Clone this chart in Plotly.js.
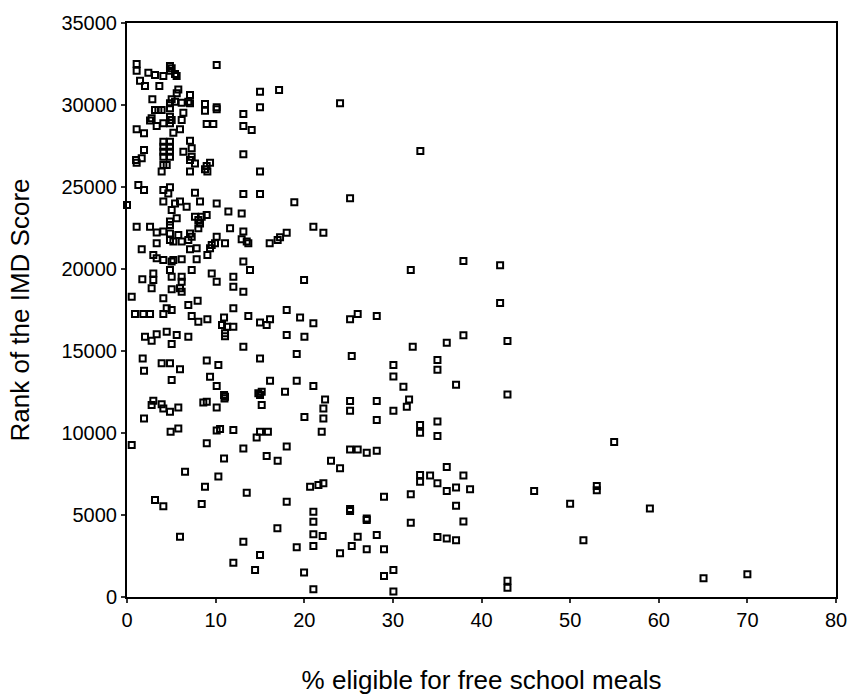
<!DOCTYPE html>
<html>
<head>
<meta charset="utf-8">
<script src="https://cdn.plot.ly/plotly-3.0.1.min.js"></script>
<style>html,body{margin:0;padding:0;background:#fff;}#chart{width:848px;height:695px;}</style>
</head>
<body>
<div id="chart"></div>
<script>
// % eligible for free school meals
const fsmPct = [
1.09,1.09,2.41,3.16,4.10,4.85,5.04,4.85,5.42,5.60,1.47,2.03,3.65,10.12,5.79,5.61,7.11,2.86,5.04,4.85,
5.42,6.17,6.92,7.11,8.80,8.80,10.12,10.12,15.01,15.01,13.13,3.16,3.54,3.91,4.85,6.36,2.78,2.60,3.35,4.10,
4.85,5.04,4.85,6.17,5.98,5.23,1.09,1.92,8.99,9.74,13.13,14.07,4.10,4.10,4.10,4.10,4.85,4.85,4.85,4.85,
7.11,1.92,1.02,1.66,1.09,6.36,7.30,7.30,13.13,7.11,7.67,4.10,3.91,4.48,8.99,9.37,8.80,9.07,7.11,15.01,
1.28,1.92,4.10,4.85,4.66,7.67,13.13,15.01,
17.16,24.04,33.10,18.88,25.17,16.10,17.00,17.27,18.02,21.03,22.16,19.98,32.02,
0.00,4.10,5.42,5.98,6.73,8.24,10.12,11.44,12.94,5.04,5.61,4.85,4.85,7.67,8.05,8.43,8.99,8.24,8.05,1.09,
2.60,3.35,4.10,4.85,4.85,5.23,5.79,6.17,7.11,7.30,6.92,10.12,9.93,9.56,9.37,11.06,11.63,13.13,12.94,13.51,
13.69,3.35,1.66,2.97,3.35,4.10,5.04,5.23,6.17,7.86,7.11,7.86,9.07,7.30,2.97,2.97,2.78,1.73,4.85,5.04,
6.17,6.17,5.98,6.17,5.04,9.56,10.12,12.00,12.00,13.13,13.13,13.88,0.53,4.10,6.92,7.97,4.48,5.04,0.90,1.84,
2.60,4.10,7.30,8.05,9.07,12.00,10.95,10.72,11.29,12.00,13.69,15.01,15.76,2.03,3.35,4.48,5.61,6.92,11.06,
2.78,5.04,11.06,13.13,15.01,1.77,3.91,4.85,5.98,1.92,9.00,10.31,5.04,9.37,10.12,10.95,11.06,11.00,14.82,15.20,
15.01,15.20,2.97,2.78,3.91,4.10,4.85,5.79,8.61,9.00,10.12,1.92,4.92,5.79,10.12,10.50,12.00,15.01,15.90,14.63,
0.53,9.00,13.13,10.95,15.76,6.55,10.31,
8.80,13.51,3.16,4.10,8.43,5.98,13.13,15.01,12.00,14.45,16.97,19.15,19.98,21.03,21.03,22.08,21.03,21.03,
18.02,16.14,19.53,21.03,25.17,26.03,28.18,18.02,20.02,19.15,25.36,32.24,30.06,30.06,31.19,16.14,19.15,17.83,21.03,22.35,
22.16,22.16,25.17,25.17,28.18,28.18,31.83,31.57,30.06,20.02,21.97,33.07,33.07,18.02,17.00,23.02,24.04,25.17,26.03,27.05,
28.18,33.07,33.07,20.66,21.60,22.16,29.00,32.02,18.02,21.03,25.17,25.17,27.05,27.05,32.02,26.03,28.18,25.36,27.05,29.00,
24.04,30.06,29.00,30.06,
37.96,42.10,42.10,37.96,36.08,42.93,35.03,35.03,37.13,42.93,35.03,35.03,54.97,36.08,34.20,35.03,36.08,37.13,37.96,38.71,
45.94,53.01,53.01,37.13,50.00,37.96,35.03,36.08,37.13,51.50,42.93,42.93,65.05,70.00,59.00
];
// Rank of the IMD Score
const imdRank = [
32500,32090,31970,31830,31770,32380,32240,32090,31890,31770,31480,31160,31160,32440,30950,30710,30610,30350,30350,30100,
30200,30140,30200,30100,30060,29650,29860,29740,30810,29860,29450,29700,29700,29700,29800,29530,29190,29050,28720,28880,
29290,29090,28880,29090,28520,28310,28520,28270,28840,28840,28720,28480,27760,27460,27150,26850,27760,27460,27150,26850,
27820,27260,26650,26750,26480,27150,27360,26850,26990,26650,26440,26340,25940,26340,26280,26480,26080,25940,25940,25940,
25120,24820,24820,24980,24610,24650,24570,24570,
30910,30100,27200,24070,24310,21570,21770,21930,22210,22580,22210,19330,19940,
23900,24110,24000,24110,23800,24110,24000,23500,23390,23600,23090,22890,22680,23190,22990,23190,23290,22780,22480,22580,
22580,22220,22280,22170,21770,21670,22070,21670,22170,21970,21770,21970,21570,21460,21260,21570,22480,22280,21820,21670,
21570,21570,21200,20850,20650,20550,20450,20550,20590,21260,21200,20600,20850,19940,19730,19330,18820,19380,19940,19530,
19530,19230,18820,18620,18770,19730,19230,19530,18920,18620,20450,19940,18310,18210,17800,18060,17600,17500,17250,17250,
17250,17250,17140,16790,16940,17600,17040,16580,16480,16480,17140,16740,16580,15870,16020,16180,15970,15870,16080,
15630,15430,15900,15260,14550,14550,14250,14250,13880,13800,14420,14140,13230,13430,12860,12310,12210,12100,12420,12520,
12310,11710,11960,11710,11760,11500,11300,11550,11860,11910,11550,10890,10080,10280,10160,10240,10180,10080,10080,9730,
9270,9370,9060,8450,8590,7640,7340,
6730,6360,5910,5530,5670,3680,3370,2560,2090,1650,4190,3030,1500,4590,3820,3720,3110,470,
17500,16930,17050,16690,16930,17260,17130,15980,15870,14820,14700,15260,14150,13440,12820,13190,13190,12520,12860,12050,
11500,10890,11950,11360,11950,10790,12050,11600,11360,10980,10080,10490,10020,9170,8310,8310,7850,9000,9000,8800,
8920,7440,7030,6730,6830,6930,6120,6260,5810,5200,5360,5250,4790,4700,4530,3680,3780,3110,2910,2910,
2670,1650,1280,330,
20490,20230,17920,15960,15500,15610,14450,13860,12940,12350,10700,9820,9450,7930,7410,6930,6460,6670,7410,6570,
6460,6770,6510,5570,5680,4610,3660,3560,3460,3460,990,570,1140,1380,5400
];
const xTicks = [0,10,20,30,40,50,60,70,80];
const yTicks = [0,5000,10000,15000,20000,25000,30000,35000];
const yTickText = ['0','5000','10000','15000','20000','25000','30000','35000'];

const trace = {
  type: 'scatter', mode: 'markers',
  x: fsmPct, y: imdRank,
  cliponaxis: false,
  marker: {symbol: 'square-open', size: 6, color: '#000', line: {color: '#000', width: 2}},
  hoverinfo: 'x+y'
};
const fontFam = '"Liberation Sans", Arial, Helvetica, sans-serif';
const layout = {
  width: 848, height: 695,
  margin: {l: 127, r: 12, t: 23, b: 98},
  paper_bgcolor: '#fff', plot_bgcolor: '#fff',
  font: {family: fontFam, color: '#000', size: 20},
  showlegend: false,
  xaxis: {
    range: [0, 80], tickmode: 'array', tickvals: xTicks, ticktext: xTicks.map(String),
    showgrid: false, zeroline: false, showline: true, mirror: true,
    linecolor: '#000', linewidth: 2, ticks: 'outside', ticklen: 4, tickwidth: 2, tickcolor: '#333',
    tickfont: {size: 20, family: fontFam, color: '#000'},
    title: {text: '% eligible for free school meals', font: {size: 26, family: fontFam, color: '#000'}, standoff: 42}
  },
  yaxis: {
    range: [0, 35000], tickmode: 'array', tickvals: yTicks, ticktext: yTickText,
    showgrid: false, zeroline: false, showline: true, mirror: true,
    linecolor: '#000', linewidth: 2, ticks: 'outside', ticklen: 4, tickwidth: 2, tickcolor: '#333',
    tickfont: {size: 20, family: fontFam, color: '#000'},
    title: {text: 'Rank of the IMD Score', font: {size: 26, family: fontFam, color: '#000'}, standoff: 24}
  }
};
Plotly.newPlot('chart', [trace], layout, {displayModeBar: false, staticPlot: true});
</script>
</body>
</html>
